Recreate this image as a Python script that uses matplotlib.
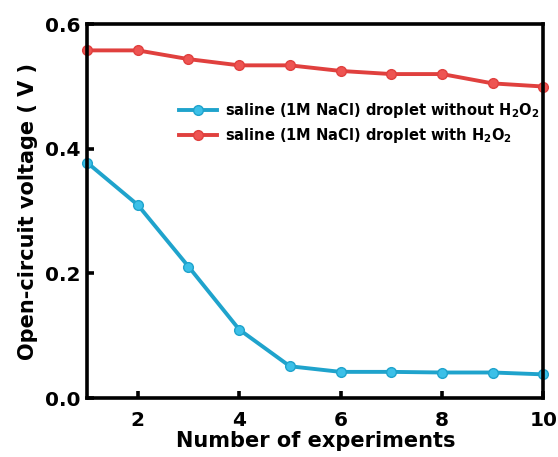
import numpy as np
import matplotlib.pyplot as plt

plt.rcParams['font.family'] = ['DejaVu Sans']
plt.rcParams['font.weight'] = 'bold'
plt.rcParams['mathtext.default'] = 'bf'

experiments = np.arange(1, 11)
voc_without = [0.378, 0.310, 0.211, 0.110, 0.051, 0.042, 0.042, 0.041, 0.041, 0.038]
voc_with = [0.558, 0.558, 0.544, 0.534, 0.534, 0.525, 0.520, 0.520, 0.505, 0.500]

label_without = 'saline (1M NaCl) droplet without H$_2$O$_2$'
label_with = 'saline (1M NaCl) droplet with H$_2$O$_2$'

blue = '#1fa3cc'
red = '#e0403e'

fig = plt.figure(figsize=(5.58, 4.57), dpi=100)
ax = fig.add_axes([0.156, 0.129, 0.818, 0.818])

ax.plot(experiments, voc_without, '-o', color=blue, lw=2.8, ms=7,
        mfc='#3cc0e8', mec=blue, mew=1, label=label_without, clip_on=False, zorder=3)
ax.plot(experiments, voc_with, '-o', color=red, lw=2.8, ms=7,
        mfc='#ee5452', mec=red, mew=1, label=label_with, clip_on=False, zorder=3)

ax.set_xlim(1, 10)
ax.set_ylim(0, 0.6)
ax.set_xticks([2, 4, 6, 8, 10])
ax.set_yticks([0.0, 0.2, 0.4, 0.6])
ax.set_yticklabels(['0.0', '0.2', '0.4', '0.6'])

for s in ax.spines.values():
    s.set_linewidth(2.6)
    s.set_zorder(4)
ax.tick_params(direction='in', width=2.6, length=5, labelsize=14.5)
ax.tick_params(axis='x', pad=9)
ax.tick_params(axis='y', pad=5)

ax.set_xlabel('Number of experiments', fontsize=15, fontweight='bold', labelpad=1)
ax.set_ylabel('Open-circuit voltage ( V )', fontsize=15, fontweight='bold', labelpad=5)

leg = ax.legend(loc='upper right', bbox_to_anchor=(1.0, 0.807), frameon=False,
                fontsize=10.5, handlelength=2.6, handletextpad=0.55,
                labelspacing=0.45, borderaxespad=0.1, borderpad=0.2)
for t in leg.get_texts():
    t.set_fontweight('bold')

fig.savefig('out.png', dpi=100)
